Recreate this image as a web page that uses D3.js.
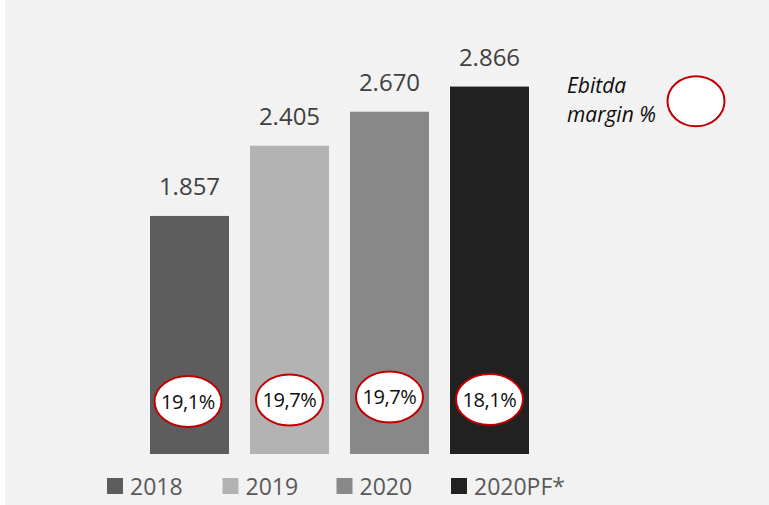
<!DOCTYPE html>
<html>
<head>
<meta charset="utf-8">
<script src="https://cdn.jsdelivr.net/npm/d3@7"></script>
<style>
  html, body { margin: 0; padding: 0; background: #ffffff; }
  svg { display: block; }
</style>
</head>
<body>
<script>
// EBITDA by year with margin badges
const categories = ["2018", "2019", "2020", "2020PF*"];
const ebitda = [1.857, 2.405, 2.670, 2.866];
const valueLabels = ["1.857", "2.405", "2.670", "2.866"];
const margins = ["19,1%", "19,7%", "19,7%", "18,1%"];
const barColors = ["#5d5d5d", "#b3b3b3", "#888888", "#212121"];

const W = 769, H = 505;
const svg = d3.select("body").append("svg").attr("width", W).attr("height", H);

svg.append("rect").attr("x", 5).attr("y", 0).attr("width", W - 5).attr("height", H).attr("fill", "#f2f2f2");

const x = d3.scaleBand().domain(categories).range([130, 549]).paddingInner(0.21).paddingOuter(0.2);
const y = d3.scaleLinear().domain([0, 3]).range([454, 69.4]);

const g = svg.append("g");

g.selectAll("rect.bar").data(categories).join("rect")
  .attr("class", "bar")
  .attr("x", d => x(d))
  .attr("width", x.bandwidth())
  .attr("y", (d, i) => y(ebitda[i]))
  .attr("height", (d, i) => y(0) - y(ebitda[i]))
  .attr("fill", (d, i) => barColors[i]);

g.selectAll("text.val").data(categories).join("text")
  .attr("class", "val")
  .attr("x", d => x(d) + x.bandwidth() / 2)
  .attr("y", (d, i) => y(ebitda[i]) - 21)
  .attr("text-anchor", "middle")
  .attr("font-family", "'Open Sans', sans-serif")
  .attr("font-size", 24)
  .attr("fill", "#404040")
  .text((d, i) => valueLabels[i]);

// margin badges near the bar base
const badgeY = [401.5, 400, 397, 399.5];
const badges = g.selectAll("g.badge").data(categories).join("g")
  .attr("class", "badge")
  .attr("transform", (d, i) => `translate(${x(d) + x.bandwidth() / 2 - (i === 0 ? 1.5 : 0)},${badgeY[i]})`);

badges.append("ellipse")
  .attr("rx", 33.5).attr("ry", 25.5)
  .attr("fill", "#ffffff").attr("stroke", "#c00000").attr("stroke-width", 2);

badges.append("text")
  .attr("text-anchor", "middle")
  .attr("dy", "0.36em")
  .attr("font-family", "'Open Sans', sans-serif")
  .attr("font-size", 20)
  .attr("letter-spacing", -0.4)
  .attr("fill", "#0d0d0d")
  .text((d, i) => margins[i]);

// margin key
const key = svg.append("g");
key.append("text").attr("x", 567).attr("y", 93)
  .attr("font-family", "'Open Sans', sans-serif").attr("font-style", "italic")
  .attr("font-size", 21).attr("fill", "#0d0d0d").text("Ebitda");
key.append("text").attr("x", 567).attr("y", 121.5)
  .attr("font-family", "'Open Sans', sans-serif").attr("font-style", "italic")
  .attr("font-size", 21).attr("fill", "#0d0d0d").text("margin %");
key.append("ellipse").attr("cx", 696).attr("cy", 101.3).attr("rx", 28.5).attr("ry", 25)
  .attr("fill", "#ffffff").attr("stroke", "#c00000").attr("stroke-width", 2);

// series legend
const legendX = [107, 222.5, 336.5, 451];
const legend = svg.append("g");
const items = legend.selectAll("g").data(categories).join("g")
  .attr("transform", (d, i) => `translate(${legendX[i]},478)`);
items.append("rect").attr("width", 16).attr("height", 16).attr("fill", (d, i) => barColors[i]);
items.append("text")
  .attr("x", 23).attr("y", 16.5)
  .attr("font-family", "'Open Sans', sans-serif")
  .attr("font-size", 23)
  .attr("fill", "#595959")
  .text(d => d);
</script>
</body>
</html>
